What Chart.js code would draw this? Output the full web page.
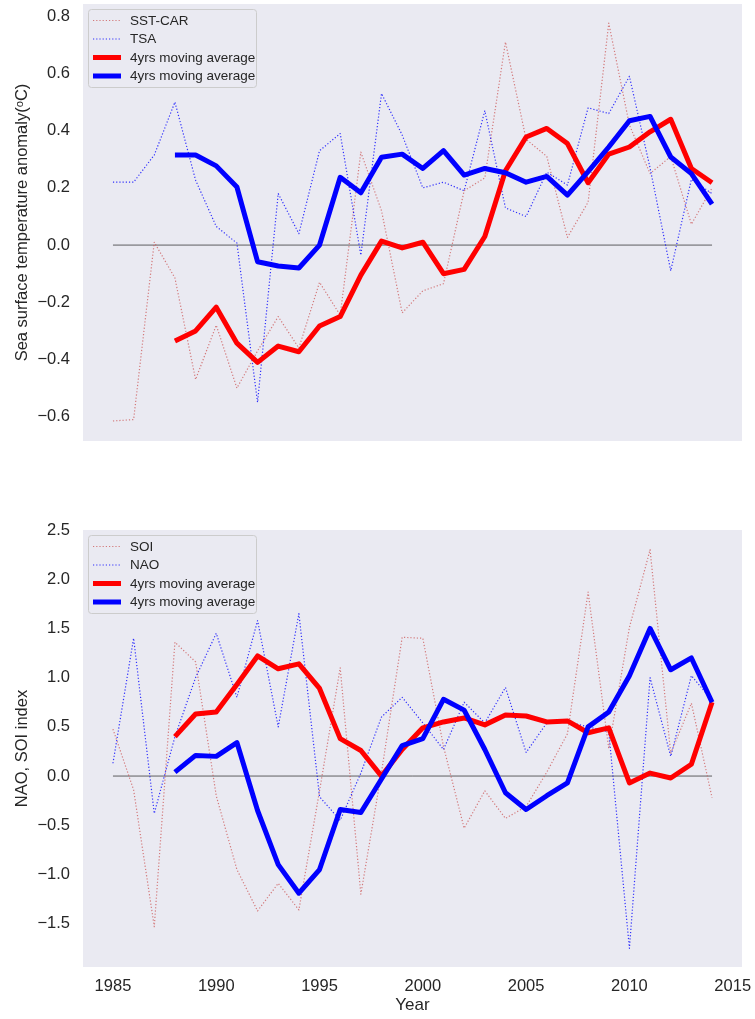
<html>
  <head>
    <script src="https://cdn.jsdelivr.net/npm/chart.js@4/dist/chart.umd.min.js"></script>
    <style>
      body { margin: 0; background: #ffffff; }
      .panel { position: absolute; left: 0; }
    </style>
  </head>
  <body>
    <div class="panel" style="top:0px"><canvas id="sstChart" width="755" height="450"></canvas></div>
    <div class="panel" style="top:500px"><canvas id="indexChart" width="755" height="519"></canvas></div>

    <script>
      // values
      const years = [1985, 1986, 1987, 1988, 1989, 1990, 1991, 1992, 1993, 1994,
                     1995, 1996, 1997, 1998, 1999, 2000, 2001, 2002, 2003, 2004,
                     2005, 2006, 2007, 2008, 2009, 2010, 2011, 2012, 2013, 2014];

      const sstCar = [-0.615, -0.61, 0.01, -0.115, -0.47, -0.28, -0.50, -0.37, -0.25, -0.36,
                      -0.13, -0.245, 0.325, 0.12, -0.237, -0.16, -0.135, 0.19, 0.235, 0.71,
                      0.37, 0.31, 0.027, 0.15, 0.776, 0.42, 0.25, 0.31, 0.073, 0.2];
      const tsa = [0.22, 0.22, 0.315, 0.50, 0.227, 0.065, 0.007, -0.55, 0.18, 0.04,
                   0.33, 0.39, -0.035, 0.53, 0.385, 0.2, 0.22, 0.19, 0.47, 0.13,
                   0.1, 0.255, 0.21, 0.48, 0.46, 0.59, 0.27, -0.09, 0.23, 0.18];
      const sstCarMA = [null, null, null, -0.335, -0.30, -0.217, -0.343, -0.41, -0.353, -0.373,
                        -0.283, -0.25, -0.105, 0.014, -0.01, 0.01, -0.10, -0.085, 0.03, 0.26,
                        0.378, 0.408, 0.355, 0.218, 0.318, 0.343, 0.396, 0.44, 0.268, 0.218];
      const tsaMA = [null, null, null, 0.315, 0.315, 0.277, 0.203, -0.058, -0.073, -0.08,
                     0.0, 0.237, 0.183, 0.307, 0.318, 0.268, 0.33, 0.245, 0.268, 0.253,
                     0.22, 0.24, 0.175, 0.257, 0.343, 0.435, 0.45, 0.308, 0.25, 0.143];

      const soi = [0.477, -0.14, -1.53, 1.36, 1.16, -0.2, -0.95, -1.37, -1.09, -1.36,
                   -0.15, 1.1, -1.2, 0.04, 1.41, 1.40, 0.3, -0.53, -0.15, -0.43,
                   -0.31, 0.04, 0.43, 1.87, 0.28, 1.51, 2.3, 0.23, 0.74, -0.22];
      const nao = [0.13, 1.40, -0.38, 0.4, 1.0, 1.45, 0.8, 1.58, 0.5, 1.65,
                   -0.21, -0.45, 0.03, 0.6, 0.8, 0.54, 0.27, 0.75, 0.54, 0.9,
                   0.24, 0.54, 0.55, 0.5, 0.45, -1.75, 1.0, 0.2, 1.02, 0.77];
      const soiMA = [null, null, null, 0.4, 0.63, 0.65, 0.93, 1.22, 1.09, 1.14,
                     0.89, 0.38, 0.26, 0.0, 0.27, 0.49, 0.55, 0.59, 0.52, 0.62,
                     0.61, 0.55, 0.56, 0.44, 0.49, -0.07, 0.03, -0.02, 0.12, 0.75];
      const naoMA = [null, null, null, 0.04, 0.21, 0.2, 0.34, -0.35, -0.9, -1.19,
                     -0.95, -0.34, -0.37, -0.03, 0.31, 0.38, 0.78, 0.67, 0.27, -0.17,
                     -0.34, -0.2, -0.07, 0.5, 0.65, 1.02, 1.5, 1.08, 1.2, 0.75];

      const yearTicks = [1985, 1990, 1995, 2000, 2005, 2010, 2015];
      const sstTicks = [-0.6, -0.4, -0.2, 0.0, 0.2, 0.4, 0.6, 0.8];
      const indexTicks = [-1.5, -1.0, -0.5, 0.0, 0.5, 1.0, 1.5, 2.0, 2.5];

      const FONT = '"Liberation Sans", Arial, "DejaVu Sans", sans-serif';
      const TEXT = '#262626';

      function pts(arr) {
        return years.map((yr, i) => ({ x: yr, y: arr[i] }));
      }
      function fmt(v) {
        return v < 0 ? '\u2212' + Math.abs(v).toFixed(1) : v.toFixed(1);
      }
      // stop chart.js from shrinking the plot to fit edge tick labels
      function noEdgePad(s) {
        s.paddingTop = 0;
        s.paddingBottom = 0;
        s.paddingLeft = 0;
        s.paddingRight = 0;
      }

      // grey plot background, seaborn style
      const plotBg = {
        id: 'plotBg',
        beforeDraw(chart) {
          const { ctx, chartArea: a } = chart;
          ctx.save();
          ctx.fillStyle = '#eaeaf2';
          ctx.fillRect(a.left, a.top, a.right - a.left, a.bottom - a.top);
          ctx.restore();
        }
      };

      // legend drawn inside the axes, upper left, like matplotlib
      const innerLegend = {
        id: 'innerLegend',
        afterDatasetsDraw(chart) {
          const { ctx, chartArea: a } = chart;
          const items = chart.data.datasets.filter(d => d.label);
          const x0 = a.left + 5, y0 = a.top + 5, w = 168, h = 78;
          ctx.save();
          ctx.beginPath();
          ctx.roundRect(x0 + 0.5, y0 + 0.5, w, h, 3);
          ctx.fillStyle = 'rgba(234,234,242,0.85)';
          ctx.fill();
          ctx.strokeStyle = '#cccccc';
          ctx.lineWidth = 1;
          ctx.stroke();
          items.forEach((d, i) => {
            const y = y0 + 11.5 + i * 18.5;
            ctx.beginPath();
            ctx.setLineDash(d.borderDash || []);
            ctx.lineWidth = d.borderWidth;
            ctx.strokeStyle = d.borderColor;
            ctx.moveTo(x0 + 5, y);
            ctx.lineTo(x0 + 33, y);
            ctx.stroke();
            ctx.setLineDash([]);
            ctx.fillStyle = TEXT;
            ctx.font = '13.5px ' + FONT;
            ctx.textBaseline = 'middle';
            ctx.fillText(d.label, x0 + 42, y + 0.5);
          });
          ctx.restore();
        }
      };

      function makeChart(id, series, yTicks, yMin, yMax, yLabel, showX, pad) {
        const datasets = [
          { label: series[0].name, data: pts(series[0].values), borderColor: 'rgba(205,92,92,0.8)',
            borderWidth: 1.2, borderDash: [1.2, 2], order: 4 },
          { label: series[1].name, data: pts(series[1].values), borderColor: 'rgba(0,0,255,0.8)',
            borderWidth: 1.2, borderDash: [1.2, 2], order: 3 },
          { label: '4yrs moving average', data: pts(series[2].values), borderColor: '#ff0000',
            borderWidth: 5, order: 2 },
          { label: '4yrs moving average', data: pts(series[3].values), borderColor: '#0000ff',
            borderWidth: 5, order: 1 },
          { data: [{ x: years[0], y: 0 }, { x: years[years.length - 1], y: 0 }],
            borderColor: 'rgba(0,0,0,0.6)', borderWidth: 1, order: 5 }
        ];
        return new Chart(document.getElementById(id), {
          type: 'line',
          data: { datasets: datasets },
          plugins: [plotBg, innerLegend],
          options: {
            responsive: false,
            animation: false,
            devicePixelRatio: 1,
            layout: { padding: pad },
            elements: {
              point: { radius: 0 },
              line: { tension: 0, borderJoinStyle: 'round', fill: false }
            },
            plugins: { legend: { display: false }, tooltip: { enabled: false } },
            scales: {
              x: {
                type: 'linear',
                min: 1983.55,
                max: 2015.45,
                grid: { display: false, drawTicks: false },
                border: { display: false },
                afterBuildTicks: s => { s.ticks = yearTicks.map(v => ({ value: v })); },
                afterFit: s => { s.height = showX ? 52 : 0; noEdgePad(s); },
                ticks: {
                  display: showX,
                  padding: 10,
                  color: TEXT,
                  font: { family: FONT, size: 16.5 },
                  callback: v => String(v)
                },
                title: {
                  display: showX,
                  text: 'Year',
                  color: TEXT,
                  font: { family: FONT, size: 17 },
                  padding: { top: 0, bottom: 3 }
                }
              },
              y: {
                type: 'linear',
                min: yMin,
                max: yMax,
                grid: { display: false, drawTicks: false },
                border: { display: false },
                afterBuildTicks: s => { s.ticks = yTicks.map(v => ({ value: v })); },
                afterFit: s => { s.width = 83; noEdgePad(s); },
                ticks: {
                  padding: 13,
                  color: TEXT,
                  font: { family: FONT, size: 16.5 },
                  callback: v => fmt(v)
                },
                title: {
                  display: true,
                  text: yLabel,
                  color: TEXT,
                  font: { family: FONT, size: 16.5 },
                  padding: { top: 13, bottom: 0 }
                }
              }
            }
          }
        });
      }

      makeChart('sstChart',
        [{ name: 'SST-CAR', values: sstCar }, { name: 'TSA', values: tsa },
         { values: sstCarMA }, { values: tsaMA }],
        sstTicks, -0.685, 0.843, 'Sea surface temperature anomaly(\u1d52C)', false,
        { top: 4, right: 13, bottom: 9, left: 0 });

      makeChart('indexChart',
        [{ name: 'SOI', values: soi }, { name: 'NAO', values: nao },
         { values: soiMA }, { values: naoMA }],
        indexTicks, -1.94, 2.5, 'NAO, SOI index', true,
        { top: 30, right: 13, bottom: 0, left: 0 });
    </script>
  </body>
</html>
